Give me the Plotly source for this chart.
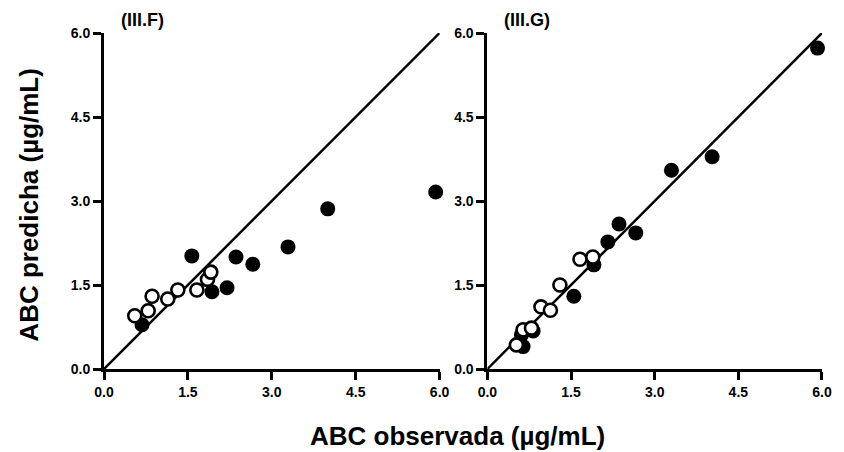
import plotly.graph_objects as go

# Panel III.F
f_filled_x = [0.68, 1.57, 1.93, 2.20, 2.36, 2.66, 3.29, 4.00, 5.93]
f_filled_y = [0.79, 2.02, 1.38, 1.45, 2.00, 1.87, 2.18, 2.86, 3.16]
f_open_x = [0.55, 0.79, 0.86, 1.14, 1.32, 1.66, 1.85, 1.91]
f_open_y = [0.95, 1.04, 1.30, 1.25, 1.41, 1.41, 1.60, 1.73]

# Panel III.G
g_filled_x = [0.61, 0.64, 0.82, 1.55, 1.91, 2.16, 2.36, 2.66, 3.30, 4.03, 5.92]
g_filled_y = [0.61, 0.40, 0.68, 1.30, 1.86, 2.27, 2.59, 2.43, 3.55, 3.79, 5.73]
g_open_x = [0.52, 0.64, 0.79, 0.96, 1.13, 1.30, 1.66, 1.89]
g_open_y = [0.43, 0.70, 0.73, 1.11, 1.05, 1.50, 1.96, 2.00]

identity = [0.0, 6.0]
ticks = [0.0, 1.5, 3.0, 4.5, 6.0]
tick_text = ["0.0", "1.5", "3.0", "4.5", "6.0"]
panel_titles = ["(III.F)", "(III.G)"]

fig = go.Figure()
panels = [("x", "y", f_filled_x, f_filled_y, f_open_x, f_open_y),
          ("x2", "y2", g_filled_x, g_filled_y, g_open_x, g_open_y)]
for xa, ya, fx, fy, ox, oy in panels:
    fig.add_trace(go.Scatter(x=identity, y=identity, mode="lines", xaxis=xa, yaxis=ya,
                             line=dict(color="black", width=2.5), cliponaxis=False,
                             showlegend=False, hoverinfo="skip"))
    fig.add_trace(go.Scatter(x=fx, y=fy, mode="markers", xaxis=xa, yaxis=ya,
                             marker=dict(size=15, color="black", line=dict(width=0)),
                             cliponaxis=False, showlegend=False))
    fig.add_trace(go.Scatter(x=ox, y=oy, mode="markers", xaxis=xa, yaxis=ya,
                             marker=dict(size=13, color="white", line=dict(width=2.6, color="black")),
                             cliponaxis=False, showlegend=False))

font = "Liberation Sans, Arial, sans-serif"
axis_common = dict(range=[0, 6], tickvals=ticks, ticktext=tick_text, showgrid=False,
                   zeroline=False, showline=True, linecolor="black", linewidth=3,
                   ticks="outside", ticklen=8, tickwidth=2.5, tickcolor="black",
                   tickfont=dict(family=font, size=14, color="black", weight="bold"))

w = 721.0
fig.update_layout(
    width=844, height=452,
    margin=dict(l=104, r=19, t=33, b=83),
    paper_bgcolor="white", plot_bgcolor="white",
    xaxis=dict(domain=[0, 337 / w], anchor="y", **axis_common),
    yaxis=dict(domain=[0, 1], anchor="x", **axis_common),
    xaxis2=dict(domain=[385 / w, 1], anchor="y2", **axis_common),
    yaxis2=dict(domain=[0, 1], anchor="x2", **axis_common),
)

fig.add_annotation(text="ABC predicha (µg/mL)", xref="paper", yref="paper", x=-0.105, y=0.488,
                   textangle=-90, showarrow=False, xanchor="center", yanchor="middle",
                   font=dict(family=font, size=26, color="black", weight="bold"))
fig.add_annotation(text="ABC observada (µg/mL)", xref="paper", yref="paper", x=0.492, y=-0.2,
                   showarrow=False, xanchor="center", yanchor="middle",
                   font=dict(family=font, size=26, color="black", weight="bold"))
for xr, t in zip(["x domain", "x2 domain"], panel_titles):
    fig.add_annotation(text=t, xref=xr, yref="paper", x=0.045, y=1.04, showarrow=False,
                       xanchor="left", yanchor="middle",
                       font=dict(family=font, size=18, color="black", weight="bold"))

fig.write_html("out.html")
